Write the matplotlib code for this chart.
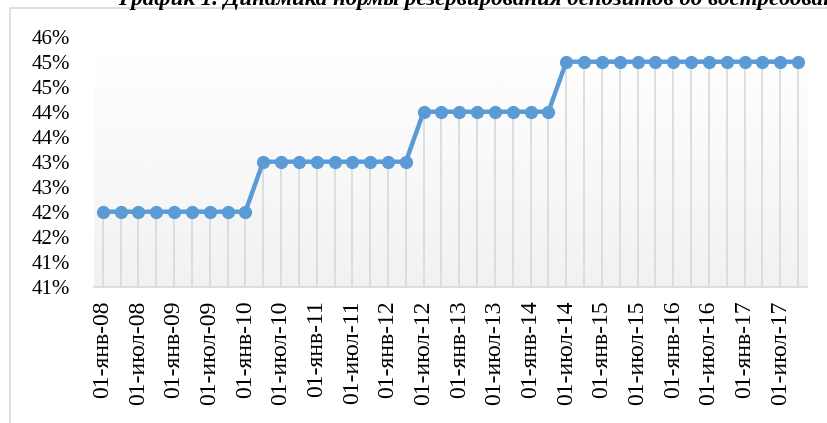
import numpy as np
import matplotlib.pyplot as plt
from matplotlib.patches import Rectangle

plt.rcParams['font.family'] = ['Liberation Serif', 'DejaVu Serif']

# reserve norm, quarterly 01-янв-08 .. 01-окт-17, %
rates = [42, 42, 42, 42, 42, 42, 42, 42, 42,
         43, 43, 43, 43, 43, 43, 43, 43, 43,
         44, 44, 44, 44, 44, 44, 44, 44,
         45, 45, 45, 45, 45, 45, 45, 45, 45, 45, 45, 45, 45, 45]
# labels shown under every second point
x_labels = ['01-янв-08', '01-июл-08', '01-янв-09', '01-июл-09', '01-янв-10',
            '01-июл-10', '01-янв-11', '01-июл-11', '01-янв-12', '01-июл-12',
            '01-янв-13', '01-июл-13', '01-янв-14', '01-июл-14', '01-янв-15',
            '01-июл-15', '01-янв-16', '01-июл-16', '01-янв-17', '01-июл-17']
y_ticks = [40.5, 41, 41.5, 42, 42.5, 43, 43.5, 44, 44.5, 45, 45.5]
y_labels = ['41%', '41%', '42%', '42%', '43%', '43%', '44%', '44%', '45%', '45%', '46%']

title = 'График 1. Динамика нормы резервирования депозитов до востребования'

x = np.arange(len(rates))

fig = plt.figure(figsize=(8.28, 4.23), dpi=100)
ax = fig.add_axes([0.1133, 0.3222, 0.8613, 0.591])

# chart area border
fig.patches.append(Rectangle((10/828, -0.1), 1.0, 1.1 - 8/423, transform=fig.transFigure,
                             fill=False, edgecolor='#d9d9d9', linewidth=1.2))
fig.text(118/828, 1 - 5/423, title, fontsize=16.5, fontweight='bold', style='italic',
         ha='left', va='baseline')

# gradient plot area
grad = np.linspace(1.0, 0.945, 256).reshape(-1, 1)
ax.imshow(grad, cmap='gray', vmin=0, vmax=1, aspect='auto',
          extent=(-0.5, len(rates) - 0.5, 40.5, 45.5), origin='upper', zorder=0)

# drop lines
ax.vlines(x, 40.5, rates, color='#d9d9d9', linewidth=1.2, zorder=1)
ax.plot(x, rates, color='#5b9bd5', linewidth=3.2, marker='o', markersize=8.5, zorder=3)

ax.set_xlim(-0.5, len(rates) - 0.5)
ax.set_ylim(40.5, 45.5)
ax.set_yticks(y_ticks)
ax.set_yticklabels(y_labels, fontsize=15)
ax.set_xticks(x[::2])
ax.set_xticklabels(x_labels, rotation=90, fontsize=17)
ax.tick_params(axis='y', length=0, pad=17)
ax.tick_params(axis='x', length=0, pad=10)
for s in ['top', 'right', 'left']:
    ax.spines[s].set_visible(False)
ax.spines['bottom'].set_color('#d9d9d9')
ax.spines['bottom'].set_linewidth(1.2)

plt.savefig('out.png', dpi=100)
